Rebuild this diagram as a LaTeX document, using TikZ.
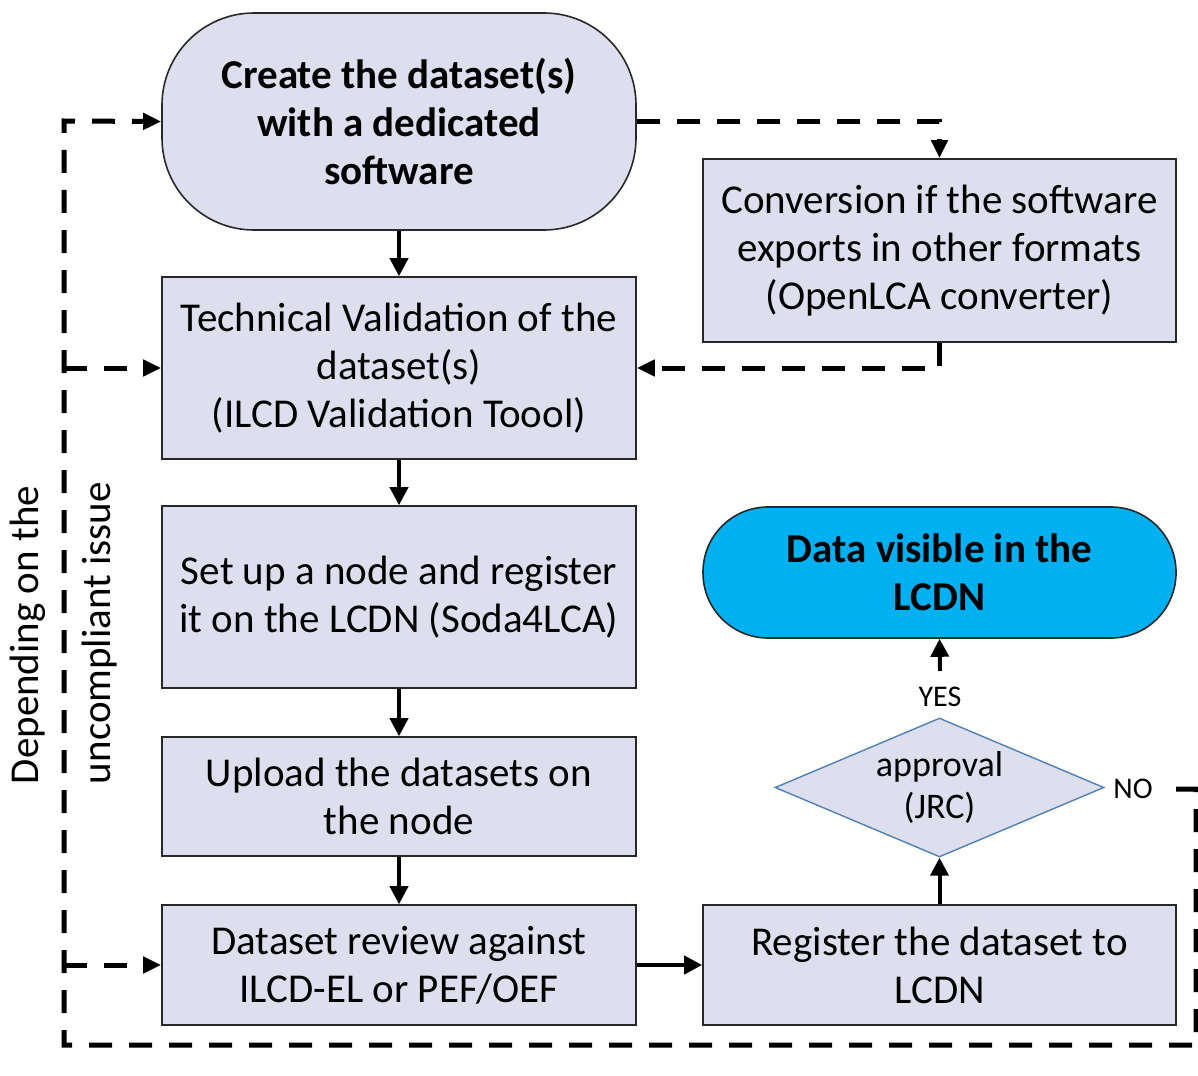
\documentclass[tikz,border=0pt]{standalone}
\usepackage{fontspec}
\setmainfont{Carlito}
\usetikzlibrary{arrows.meta,shapes.geometric}
\definecolor{boxfill}{RGB}{221,223,238}
\definecolor{boxline}{RGB}{40,40,40}
\definecolor{dataFill}{RGB}{0,176,240}
\definecolor{diaLine}{RGB}{80,128,180}
\begin{document}
\begin{tikzpicture}[x=1pt,y=-1pt,
  box/.style={draw=boxline, line width=1.6pt, fill=boxfill, align=center, inner sep=0pt,
    font=\fontsize{41}{48}\selectfont},
  solidarrow/.style={line width=4pt, -{Triangle[width=18pt,length=18pt]}},
  dashline/.style={line width=5pt, dash pattern=on 23pt off 17pt},
  dasharrow/.style={dashline, -{Triangle[width=16pt,length=18pt]}}
]
\useasboundingbox (0,0) rectangle (1198,1075);

\node[box, rounded corners=92pt, minimum width=474pt, minimum height=217pt,
  font=\bfseries\fontsize{41}{48}\selectfont] (create) at (399,121.5)
  {Create the dataset(s)\\with a dedicated\\software};
\node[box, minimum width=473pt, minimum height=183pt] (conv) at (939.5,250.5)
  {Conversion if the software\\exports in other formats\\(OpenLCA converter)};
\node[box, minimum width=474pt, minimum height=182pt] (tech) at (399,368)
  {Technical Validation of the\\dataset(s)\\(ILCD Validation Toool)};
\node[box, minimum width=474pt, minimum height=182pt] (setup) at (399,597)
  {Set up a node and register\\it on the LCDN (Soda4LCA)};
\node[box, minimum width=474pt, minimum height=119pt] (upload) at (399,796.5)
  {Upload the datasets on\\the node};
\node[box, minimum width=474pt, minimum height=120pt] (review) at (399,965)
  {Dataset review against\\ILCD-EL or PEF/OEF};
\node[box, minimum width=473pt, minimum height=120pt] (register) at (939.5,965)
  {Register the dataset to\\LCDN};
\node[box, fill=dataFill, rounded corners=65pt, minimum width=473pt, minimum height=131pt,
  font=\bfseries\fontsize{41}{48}\selectfont] (data) at (939.5,572.5)
  {Data visible in the\\LCDN};
\node[diamond, draw=diaLine, line width=1.4pt, fill=boxfill, aspect=2.37, inner sep=0pt,
  minimum width=329pt, minimum height=139pt, align=center,
  font=\fontsize{36}{42}\selectfont] (appr) at (939.5,787.5)
  {approval\\(JRC)};
\node[font=\fontsize{30}{34}\selectfont, inner sep=0pt] (yes) at (940,697) {YES};
\node[font=\fontsize{30}{34}\selectfont, inner sep=0pt] (no) at (1133,789) {NO};

\node[rotate=90, font=\fontsize{41}{48}\selectfont, inner sep=0pt] (lab1) at (28,635) {Depending on the};
\node[rotate=90, font=\fontsize{41}{48}\selectfont, inner sep=0pt] (lab2) at (100,633) {uncompliant issue};

\coordinate (yesstart) at (940,671);
\coordinate (nostart) at (1176,789);
\coordinate (loopTech) at (64,368);
\coordinate (loopReview) at (64,965);

% solid arrows
\draw[solidarrow] (create.south) -- (tech.north);
\draw[solidarrow] (tech.south) -- (setup.north);
\draw[solidarrow] (setup.south) -- (upload.north);
\draw[solidarrow] (upload.south) -- (review.north);
\draw[solidarrow] (review.east) -- (register.west);
\draw[solidarrow] (register.north) -- (appr.south);
\draw[solidarrow] (yesstart) -- (data.south);

% dashed connectors
\draw[dasharrow] (create.east) -| (conv.north);
\draw[dasharrow] (conv.south) |- (tech.east);
\draw[dasharrow] (nostart) -- (1196,789) -- (1196,1045) -- (64,1045) -- (64,121) -- (create.west);
\draw[dasharrow] (loopTech) -- (tech.west);
\draw[dasharrow] (loopReview) -- (review.west);
\end{tikzpicture}
\end{document}
